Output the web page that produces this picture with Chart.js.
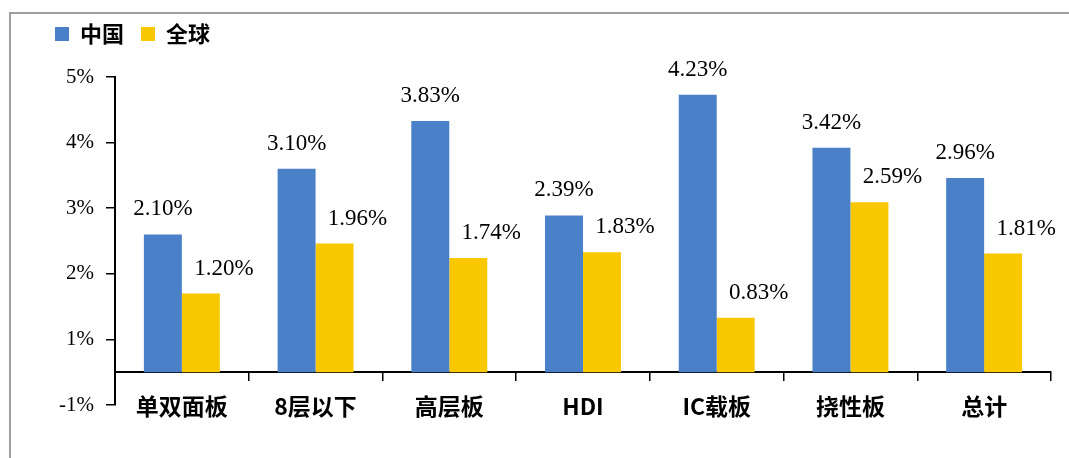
<!DOCTYPE html>
<html>
<head>
<meta charset="utf-8">
<script src="https://cdn.jsdelivr.net/npm/chart.js@4/dist/chart.umd.min.js"></script>
<style>
  html, body { margin: 0; padding: 0; background: #fff; }
  #wrap { position: relative; width: 1069px; height: 458px; overflow: hidden; }
  #frame { position: absolute; left: 9px; top: 12px; width: 1100px; height: 500px;
           border-left: 2px solid #a0a0a0; border-top: 2px solid #a0a0a0; }
  #chart { position: absolute; left: 0; top: 0; }
</style>
</head>
<body>
<div id="wrap">
  <div id="frame"></div>
  <canvas id="chart" width="1069" height="458"></canvas>
</div>
<script>
const categories = ["单双面板", "8层以下", "高层板", "HDI", "IC载板", "挠性板", "总计"];
const seriesNames = ["中国", "全球"];
const chinaValues = [2.10, 3.10, 3.83, 2.39, 4.23, 3.42, 2.96];
const globalValues = [1.20, 1.96, 1.74, 1.83, 0.83, 2.59, 1.81];
// the original axis starts at -0.5% and rounds its labels to whole percents
const tickValues = [-0.5, 0.5, 1.5, 2.5, 3.5, 4.5];
const tickLabels = ["-1%", "1%", "2%", "3%", "4%", "5%"];

const cjkFont = "'Noto Sans CJK SC', 'Noto Sans', sans-serif";
const serifFont = "'Liberation Serif', 'DejaVu Serif', serif";

// value labels above each bar
const barLabels = {
    id: "barLabels",
    afterDatasetsDraw(chart) {
        const ctx = chart.ctx;
        ctx.save();
        ctx.font = "23px " + serifFont;
        ctx.fillStyle = "#000";
        ctx.textAlign = "center";
        ctx.textBaseline = "middle";
        chart.data.datasets.forEach((ds, i) => {
            chart.getDatasetMeta(i).data.forEach((bar, j) => {
                ctx.fillText(ds.data[j].toFixed(2) + "%", bar.x + ds.labelShift, bar.y - 25);
            });
        });
        ctx.restore();
    }
};

// push the plot down under the legend
const legendGap = {
    id: "legendGap",
    beforeInit(chart) {
        const fit = chart.legend.fit;
        chart.legend.fit = function () {
            fit.bind(chart.legend)();
            this.height = 71;
        };
    }
};

const ctx = document.getElementById("chart").getContext("2d");
const chart = new Chart(ctx, {
    type: "bar",
    data: {
        labels: categories,
        datasets: [{
            label: seriesNames[0],
            data: chinaValues,
            backgroundColor: "#4a80c8",
            borderWidth: 0,
            labelShift: 0
        }, {
            label: seriesNames[1],
            data: globalValues,
            backgroundColor: "#fac800",
            borderWidth: 0,
            labelShift: 23
        }]
    },
    options: {
        responsive: false,
        animation: false,
        layout: { padding: { left: 38, right: 18, top: 6, bottom: 53 } },
        datasets: { bar: { barPercentage: 1, categoryPercentage: 0.568 } },
        plugins: {
            legend: {
                position: "top",
                align: "start",
                labels: {
                    boxWidth: 14,
                    boxHeight: 14,
                    padding: 17,
                    color: "#000",
                    font: { family: cjkFont, size: 22, weight: "bold" }
                }
            },
            tooltip: { enabled: false }
        },
        scales: {
            x: {
                position: { y: 0 },
                grid: { drawOnChartArea: false, color: "#000", lineWidth: 1.5, tickLength: 8 },
                border: { color: "#000", width: 2 },
                ticks: {
                    color: "#000",
                    padding: 12,
                    font: { family: cjkFont, size: 23, weight: "bold" }
                }
            },
            y: {
                min: -0.5,
                max: 4.5,
                afterBuildTicks(axis) {
                    axis.ticks = tickValues.map(v => ({ value: v }));
                },
                afterFit(axis) {
                    axis.width = 77;
                },
                grid: { drawOnChartArea: false, color: "#000", lineWidth: 1.5, tickLength: 9 },
                border: { color: "#000", width: 2 },
                ticks: {
                    color: "#000",
                    padding: 12,
                    font: { family: serifFont, size: 21 },
                    callback: (value, index) => tickLabels[index]
                }
            }
        }
    },
    plugins: [barLabels, legendGap]
});
</script>
</body>
</html>
